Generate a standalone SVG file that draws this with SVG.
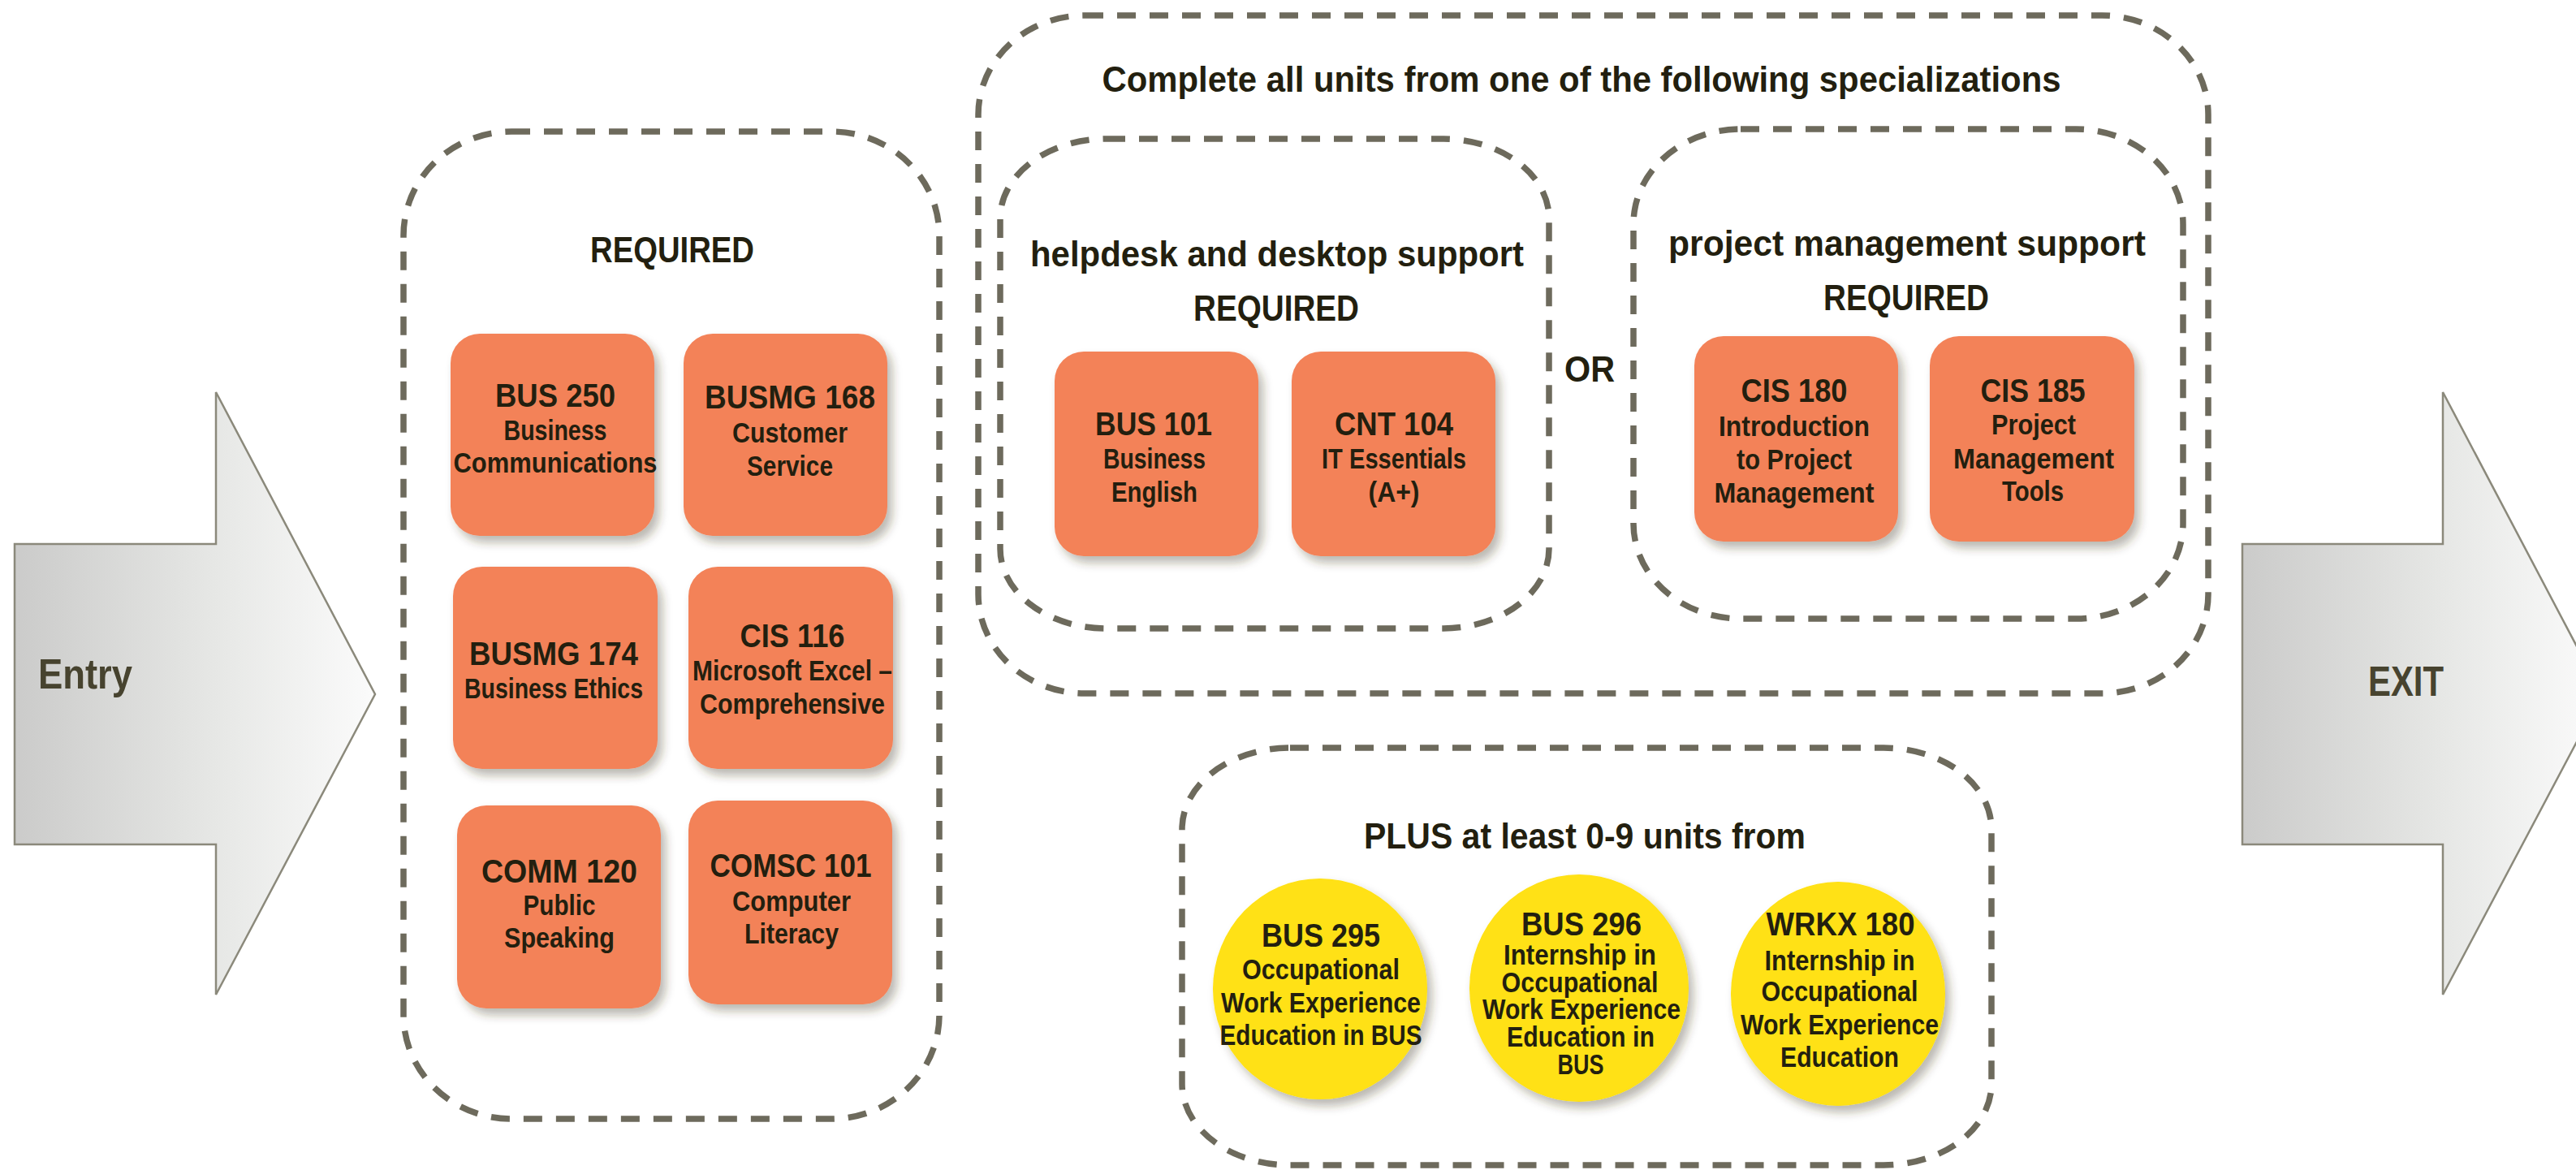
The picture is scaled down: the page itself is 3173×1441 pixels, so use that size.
<svg xmlns="http://www.w3.org/2000/svg" width="3173" height="1441" viewBox="0 0 3173 1441">
<defs>
<linearGradient id="ag" x1="0" y1="0" x2="1" y2="0">
<stop offset="0" stop-color="#cbcbca"/>
<stop offset="0.55" stop-color="#e6e7e5"/>
<stop offset="1" stop-color="#fbfbfb"/>
</linearGradient>
<filter id="sh" x="-20%" y="-20%" width="150%" height="150%">
<feDropShadow dx="6" dy="8" stdDeviation="6" flood-color="#3a3520" flood-opacity="0.35"/>
</filter>
<style>
.grp{fill:none;stroke:#6d6a5c;stroke-width:7.5;stroke-dasharray:23 17}
.arr{fill:url(#ag);stroke:#8b897b;stroke-width:2.5}
.box{fill:#f38259;filter:url(#sh)}
.cir{fill:#ffe112;filter:url(#sh)}
text{font-family:"Liberation Sans Narrow","Liberation Sans",Arial,sans-serif;font-weight:bold;fill:#231f0f;text-anchor:middle}
.h{font-size:45px}
.c{font-size:41px}
.s{font-size:35px}
.big{font-size:52px;fill:#47432f;text-anchor:start}
</style>
</defs>

<g id="entry">
<path class="arr" d="M18,670 H266 V483 L462,855 L266,1225 V1040 H18 Z"/>
<text class="big" x="47" y="848" textLength="116" lengthAdjust="spacingAndGlyphs">Entry</text>
</g>

<g id="exit">
<path class="arr" d="M2762,670 H3009 V483 L3205,855 L3009,1225 V1040 H2762 Z"/>
<text class="big" x="2917" y="857" textLength="93" lengthAdjust="spacingAndGlyphs">EXIT</text>
</g>

<g id="required-group">
<rect class="grp" x="497" y="162" width="660" height="1216" rx="133" ry="128"/>
<text class="h" x="828" y="323" textLength="202" lengthAdjust="spacingAndGlyphs">REQUIRED</text>
</g>

<g id="bus250">
<rect class="box" x="555" y="411" width="251" height="249" rx="36"/>
<text class="c" x="684" y="501" textLength="148" lengthAdjust="spacingAndGlyphs">BUS 250</text>
<text class="s" x="684" y="542" textLength="127" lengthAdjust="spacingAndGlyphs">Business</text>
<text class="s" x="684" y="582" textLength="251" lengthAdjust="spacingAndGlyphs">Communications</text>
</g>
<g id="busmg168">
<rect class="box" x="842" y="411" width="251" height="249" rx="36"/>
<text class="c" x="973" y="503" textLength="210" lengthAdjust="spacingAndGlyphs">BUSMG 168</text>
<text class="s" x="973" y="545" textLength="142" lengthAdjust="spacingAndGlyphs">Customer</text>
<text class="s" x="973" y="586" textLength="106" lengthAdjust="spacingAndGlyphs">Service</text>
</g>
<g id="busmg174">
<rect class="box" x="558" y="698" width="252" height="249" rx="36"/>
<text class="c" x="682" y="819" textLength="208" lengthAdjust="spacingAndGlyphs">BUSMG 174</text>
<text class="s" x="682" y="860" textLength="220" lengthAdjust="spacingAndGlyphs">Business Ethics</text>
</g>
<g id="cis116">
<rect class="box" x="848" y="698" width="252" height="249" rx="36"/>
<text class="c" x="976" y="797" textLength="129" lengthAdjust="spacingAndGlyphs">CIS 116</text>
<text class="s" x="976" y="838" textLength="246" lengthAdjust="spacingAndGlyphs">Microsoft Excel –</text>
<text class="s" x="976" y="879" textLength="228" lengthAdjust="spacingAndGlyphs">Comprehensive</text>
</g>
<g id="comm120">
<rect class="box" x="563" y="992" width="251" height="250" rx="36"/>
<text class="c" x="689" y="1087" textLength="192" lengthAdjust="spacingAndGlyphs">COMM 120</text>
<text class="s" x="689" y="1127" textLength="89" lengthAdjust="spacingAndGlyphs">Public</text>
<text class="s" x="689" y="1167" textLength="136" lengthAdjust="spacingAndGlyphs">Speaking</text>
</g>
<g id="comsc101">
<rect class="box" x="848" y="986" width="251" height="251" rx="36"/>
<text class="c" x="974" y="1080" textLength="199" lengthAdjust="spacingAndGlyphs">COMSC 101</text>
<text class="s" x="975" y="1122" textLength="146" lengthAdjust="spacingAndGlyphs">Computer</text>
<text class="s" x="975" y="1162" textLength="116" lengthAdjust="spacingAndGlyphs">Literacy</text>
</g>

<g id="specializations">
<rect class="grp" x="1205" y="19" width="1515" height="835" rx="131" ry="122"/>
<text class="h" x="1948" y="113" textLength="1181" lengthAdjust="spacingAndGlyphs">Complete all units from one of the following specializations</text>
<text class="h" x="1958" y="470" textLength="62" lengthAdjust="spacingAndGlyphs">OR</text>
</g>

<g id="helpdesk">
<rect class="grp" x="1232" y="171" width="676" height="603" rx="131" ry="98"/>
<text class="h" x="1573" y="328" textLength="608" lengthAdjust="spacingAndGlyphs">helpdesk and desktop support</text>
<text class="h" x="1572" y="395" textLength="204" lengthAdjust="spacingAndGlyphs">REQUIRED</text>
</g>
<g id="bus101">
<rect class="box" x="1299" y="433" width="251" height="252" rx="36"/>
<text class="c" x="1421" y="536" textLength="144" lengthAdjust="spacingAndGlyphs">BUS 101</text>
<text class="s" x="1422" y="577" textLength="126" lengthAdjust="spacingAndGlyphs">Business</text>
<text class="s" x="1422" y="618" textLength="106" lengthAdjust="spacingAndGlyphs">English</text>
</g>
<g id="cnt104">
<rect class="box" x="1591" y="433" width="251" height="252" rx="36"/>
<text class="c" x="1717" y="536" textLength="146" lengthAdjust="spacingAndGlyphs">CNT 104</text>
<text class="s" x="1717" y="577" textLength="178" lengthAdjust="spacingAndGlyphs">IT Essentials</text>
<text class="s" x="1717" y="618" textLength="63" lengthAdjust="spacingAndGlyphs">(A+)</text>
</g>

<g id="project-management">
<rect class="grp" x="2012" y="159" width="677" height="603" rx="132" ry="117"/>
<text class="h" x="2349" y="315" textLength="588" lengthAdjust="spacingAndGlyphs">project management support</text>
<text class="h" x="2348" y="382" textLength="204" lengthAdjust="spacingAndGlyphs">REQUIRED</text>
</g>
<g id="cis180">
<rect class="box" x="2087" y="414" width="251" height="253" rx="36"/>
<text class="c" x="2210" y="495" textLength="131" lengthAdjust="spacingAndGlyphs">CIS 180</text>
<text class="s" x="2210" y="537" textLength="186" lengthAdjust="spacingAndGlyphs">Introduction</text>
<text class="s" x="2210" y="578" textLength="142" lengthAdjust="spacingAndGlyphs">to Project</text>
<text class="s" x="2210" y="619" textLength="197" lengthAdjust="spacingAndGlyphs">Management</text>
</g>
<g id="cis185">
<rect class="box" x="2377" y="414" width="252" height="253" rx="36"/>
<text class="c" x="2504" y="495" textLength="129" lengthAdjust="spacingAndGlyphs">CIS 185</text>
<text class="s" x="2505" y="535" textLength="104" lengthAdjust="spacingAndGlyphs">Project</text>
<text class="s" x="2505" y="577" textLength="198" lengthAdjust="spacingAndGlyphs">Management</text>
<text class="s" x="2504" y="617" textLength="76" lengthAdjust="spacingAndGlyphs">Tools</text>
</g>

<g id="plus-group">
<rect class="grp" x="1456" y="921" width="997" height="514" rx="133" ry="100"/>
<text class="h" x="1952" y="1045" textLength="544" lengthAdjust="spacingAndGlyphs">PLUS at least 0-9 units from</text>
</g>
<g id="bus295">
<ellipse class="cir" cx="1626" cy="1218" rx="132" ry="136"/>
<text class="c" x="1627" y="1166" textLength="146" lengthAdjust="spacingAndGlyphs">BUS 295</text>
<text class="s" x="1627" y="1206" textLength="194" lengthAdjust="spacingAndGlyphs">Occupational</text>
<text class="s" x="1627" y="1247" textLength="246" lengthAdjust="spacingAndGlyphs">Work Experience</text>
<text class="s" x="1627" y="1287" textLength="249" lengthAdjust="spacingAndGlyphs">Education in BUS</text>
</g>
<g id="bus296">
<ellipse class="cir" cx="1945" cy="1217" rx="135" ry="140"/>
<text class="c" x="1948" y="1152" textLength="148" lengthAdjust="spacingAndGlyphs">BUS 296</text>
<text class="s" x="1946" y="1188" textLength="188" lengthAdjust="spacingAndGlyphs">Internship in</text>
<text class="s" x="1946" y="1222" textLength="193" lengthAdjust="spacingAndGlyphs">Occupational</text>
<text class="s" x="1948" y="1255" textLength="244" lengthAdjust="spacingAndGlyphs">Work Experience</text>
<text class="s" x="1947" y="1289" textLength="182" lengthAdjust="spacingAndGlyphs">Education in</text>
<text class="s" x="1947" y="1323" textLength="57" lengthAdjust="spacingAndGlyphs">BUS</text>
</g>
<g id="wrkx180">
<ellipse class="cir" cx="2264" cy="1224" rx="132" ry="138"/>
<text class="c" x="2267" y="1152" textLength="183" lengthAdjust="spacingAndGlyphs">WRKX 180</text>
<text class="s" x="2266" y="1195" textLength="185" lengthAdjust="spacingAndGlyphs">Internship in</text>
<text class="s" x="2266" y="1233" textLength="193" lengthAdjust="spacingAndGlyphs">Occupational</text>
<text class="s" x="2266" y="1274" textLength="244" lengthAdjust="spacingAndGlyphs">Work Experience</text>
<text class="s" x="2266" y="1314" textLength="146" lengthAdjust="spacingAndGlyphs">Education</text>
</g>

<g id="connectors"></g>
</svg>
